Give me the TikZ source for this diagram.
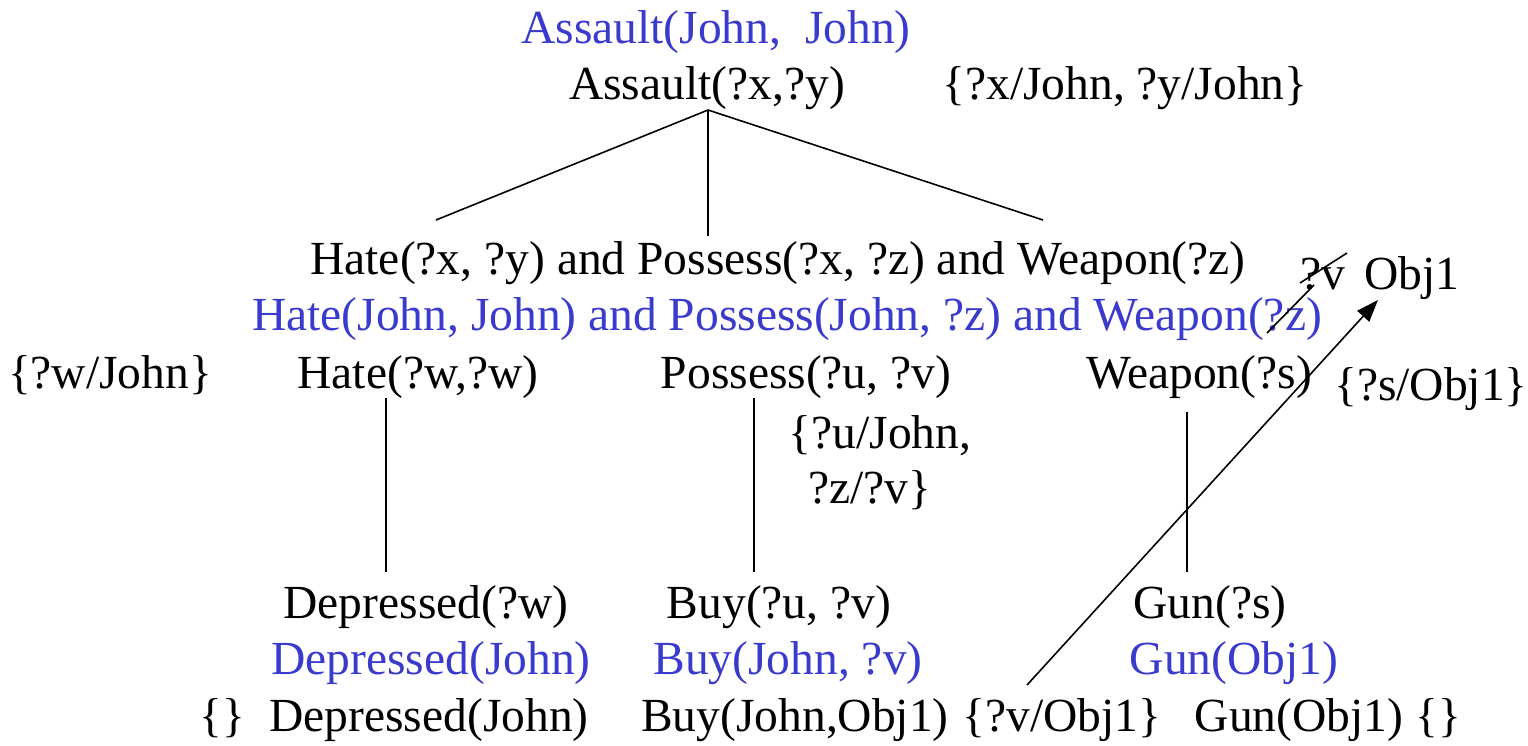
\documentclass[tikz,border=0pt]{standalone}
\usepackage{fontspec}
\setmainfont{Liberation Serif}
\usetikzlibrary{arrows.meta}
\definecolor{bound}{RGB}{58,58,204}
\begin{document}
\begin{tikzpicture}[x=1pt,y=-1pt,
  lbl/.style={inner sep=0pt,anchor=base,font=\fontsize{47.5}{57}\selectfont},
  lblw/.style={lbl,anchor=base west},
  inst/.style={lbl,text=bound},
  edge/.style={line width=1.6pt},
  link/.style={line width=1.6pt,-{Triangle[length=22pt,width=16pt]}}]
\useasboundingbox (0,0) rectangle (1528,745);

% goal and its binding
\node[inst] (goalI) at (716,43) {Assault(John,\ \ John)};
\node[lbl] (goal) at (707,99) {Assault(?x,?y)};
\node[lbl] (goalS) at (1125,99) {\{?x/John, ?y/John\}};

% conjunctive body
\node[lbl] (conj) at (778,274) {Hate(?x, ?y) and Possess(?x, ?z) and Weapon(?z)};
\node[inst] (conjI) at (787,330) {Hate(John, John) and Possess(John, ?z) and Weapon(?z)};
\node[lblw] (vOld) at (1300,289) {?v};
\node[lblw] (obj) at (1364,289) {Obj1};

% subgoals
\node[lbl] (wS) at (110,388) {\{?w/John\}};
\node[lbl] (hate) at (418,388) {Hate(?w,?w)};
\node[lbl] (poss) at (806,388) {Possess(?u, ?v)};
\node[lbl] (weap) at (1199,388) {Weapon(?s)};
\node[lbl] (sS) at (1431,400) {\{?s/Obj1\}};
\node[lbl] (uS1) at (880,448) {\{?u/John,};
\node[lbl] (uS2) at (870,503) {?z/?v\}};

% facts
\node[lbl] (dep) at (426,618) {Depressed(?w)};
\node[lbl] (buy) at (779,618) {Buy(?u, ?v)};
\node[lbl] (gun) at (1210,618) {Gun(?s)};
\node[inst] (depI) at (431,674) {Depressed(John)};
\node[inst] (buyI) at (788,674) {Buy(John, ?v)};
\node[inst] (gunI) at (1234,674) {Gun(Obj1)};
\node[lbl] (e1) at (222,731) {\{\}};
\node[lbl] (depF) at (429,731) {Depressed(John)};
\node[lbl] (buyF) at (795,731) {Buy(John,Obj1)};
\node[lbl] (vS) at (1062,731) {\{?v/Obj1\}};
\node[lbl] (gunF) at (1299,731) {Gun(Obj1)};
\node[lbl] (e2) at (1438,731) {\{\}};

% connector ends
\coordinate (root) at (708,110);
\coordinate (cL) at (436,220);
\coordinate (cM) at (708,236);
\coordinate (cR) at (1043,220);
\coordinate (hT) at (386,398);
\coordinate (hB) at (386,572);
\coordinate (pT) at (754,398);
\coordinate (pB) at (754,572);
\coordinate (wT) at (1187,412);
\coordinate (wB) at (1187,572);
\coordinate (vFrom) at (1027,685);
\coordinate (objTip) at (1378,300);
\coordinate (zFrom) at (1267,333);
\coordinate (zTo) at (1314,285);
\coordinate (kA) at (1300,283);
\coordinate (kB) at (1347,253);

\draw[edge] (root) -- (cL);
\draw[edge] (root) -- (cM);
\draw[edge] (root) -- (cR);
\draw[edge] (hT) -- (hB);
\draw[edge] (pT) -- (pB);
\draw[edge] (wT) -- (wB);
\draw[link] (vFrom) -- (objTip);
\draw[edge] (zFrom) -- (zTo);
\draw[edge] (kA) -- (kB);
\end{tikzpicture}
\end{document}
